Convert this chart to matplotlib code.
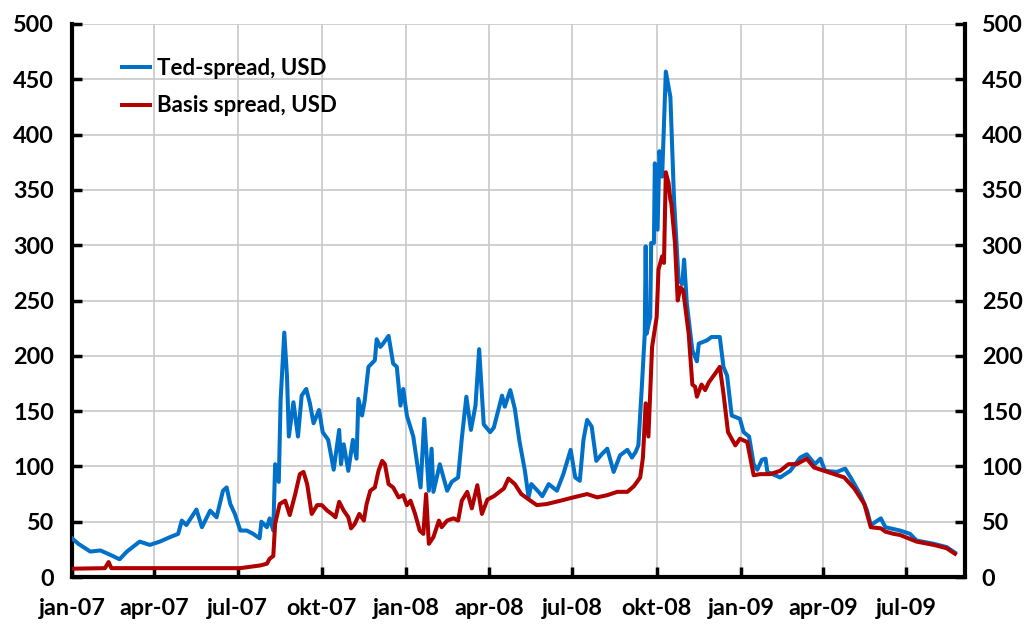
import matplotlib
matplotlib.use("Agg")
import matplotlib.pyplot as plt
import numpy as np

ted_dates = [
    "2007-01-01","2007-01-08","2007-01-21","2007-02-01","2007-02-12","2007-02-22","2007-03-02","2007-03-16",
    "2007-03-27","2007-04-07","2007-04-18","2007-04-27","2007-05-01","2007-05-06","2007-05-17","2007-05-23",
    "2007-06-01","2007-06-08","2007-06-15","2007-06-19","2007-06-23","2007-06-28","2007-07-04","2007-07-11",
    "2007-07-18","2007-07-25","2007-07-27","2007-08-02","2007-08-05","2007-08-09","2007-08-11","2007-08-15",
    "2007-08-17","2007-08-21","2007-08-24","2007-08-26","2007-08-31","2007-09-05","2007-09-09","2007-09-14",
    "2007-09-18","2007-09-22","2007-09-28","2007-10-02","2007-10-08","2007-10-14","2007-10-20","2007-10-22",
    "2007-10-25","2007-10-30","2007-11-04","2007-11-08","2007-11-10","2007-11-14","2007-11-17","2007-11-21",
    "2007-11-28","2007-11-30","2007-12-04","2007-12-07","2007-12-13","2007-12-18","2007-12-22","2007-12-26",
    "2007-12-29","2008-01-02","2008-01-09","2008-01-17","2008-01-21","2008-01-26","2008-01-29","2008-01-31",
    "2008-02-07","2008-02-15","2008-02-20","2008-02-27","2008-03-02","2008-03-07","2008-03-12","2008-03-17",
    "2008-03-21","2008-03-26","2008-04-02","2008-04-06","2008-04-15","2008-04-18","2008-04-24","2008-04-29",
    "2008-05-04","2008-05-10","2008-05-14","2008-05-17","2008-05-25","2008-05-29","2008-06-05","2008-06-14",
    "2008-06-21","2008-06-29","2008-07-04","2008-07-09","2008-07-13","2008-07-17","2008-07-22","2008-07-27",
    "2008-08-02","2008-08-08","2008-08-15","2008-08-22","2008-08-30","2008-09-04","2008-09-08","2008-09-11",
    "2008-09-15","2008-09-18","2008-09-19","2008-09-20","2008-09-24","2008-09-25","2008-09-28","2008-09-29",
    "2008-10-02","2008-10-04","2008-10-07","2008-10-11","2008-10-16","2008-10-20","2008-10-25","2008-10-29",
    "2008-10-31","2008-11-03","2008-11-09","2008-11-14","2008-11-16","2008-11-25","2008-11-30","2008-12-09",
    "2008-12-13","2008-12-17","2008-12-22","2008-12-31","2009-01-04","2009-01-10","2009-01-15","2009-01-19",
    "2009-01-24","2009-01-28","2009-01-30","2009-02-13","2009-02-24","2009-03-07","2009-03-14","2009-03-23",
    "2009-03-29","2009-04-03","2009-04-16","2009-04-25","2009-05-01","2009-05-12","2009-05-19","2009-05-23",
    "2009-06-03","2009-06-08","2009-06-24","2009-07-05","2009-07-12","2009-07-31","2009-08-14","2009-08-23",
]
ted_values = [
    35, 30, 23, 24, 20, 16, 23, 32,
    29, 32, 36, 39, 51, 47, 61, 45,
    60, 54, 78, 81, 66, 57, 42, 42,
    39, 35, 50, 45, 53, 42, 102, 86,
    160, 221, 181, 127, 158, 127, 164, 170,
    157, 139, 151, 131, 124, 97, 133, 102,
    120, 96, 124, 107, 161, 146, 160, 190,
    196, 215, 208, 211, 218, 193, 190, 155,
    170, 146, 127, 81, 143, 78, 116, 77,
    102, 78, 86, 90, 125, 163, 133, 155,
    206, 138, 131, 135, 164, 154, 169, 152,
    123, 96, 72, 84, 77, 73, 84, 78,
    93, 115, 90, 87, 124, 142, 136, 105,
    111, 116, 95, 110, 115, 108, 113, 119,
    175, 220, 299, 220, 235, 302, 302, 374,
    314, 385, 362, 457, 434, 341, 268, 265,
    287, 247, 205, 195, 211, 214, 217, 217,
    190, 182, 146, 143, 131, 127, 102, 97,
    106, 107, 95, 90, 96, 108, 111, 102,
    107, 96, 95, 98, 90, 74, 60, 47,
    53, 45, 42, 39, 33, 30, 27, 22,
]

basis_dates = [
    "2007-01-01","2007-02-06","2007-02-10","2007-02-13","2007-03-27","2007-05-21","2007-07-04","2007-07-26",
    "2007-08-02","2007-08-05","2007-08-09","2007-08-11","2007-08-16","2007-08-22","2007-08-27","2007-09-02",
    "2007-09-07","2007-09-11","2007-09-15","2007-09-20","2007-09-26","2007-10-01","2007-10-07","2007-10-12",
    "2007-10-16","2007-10-20","2007-10-25","2007-10-30","2007-11-02","2007-11-06","2007-11-11","2007-11-16",
    "2007-11-19","2007-11-23","2007-11-28","2007-12-02","2007-12-06","2007-12-09","2007-12-13","2007-12-18",
    "2007-12-24","2007-12-29","2008-01-02","2008-01-06","2008-01-11","2008-01-16","2008-01-20","2008-01-23",
    "2008-01-26","2008-01-31","2008-02-06","2008-02-09","2008-02-15","2008-02-22","2008-02-27","2008-03-02",
    "2008-03-08","2008-03-13","2008-03-19","2008-03-24","2008-03-30","2008-04-06","2008-04-17","2008-04-22",
    "2008-04-29","2008-05-06","2008-05-16","2008-05-23","2008-06-03","2008-06-18","2008-07-02","2008-07-17",
    "2008-07-28","2008-08-08","2008-08-19","2008-08-30","2008-09-06","2008-09-13","2008-09-16","2008-09-19",
    "2008-09-22","2008-09-26","2008-10-01","2008-10-03","2008-10-07","2008-10-09","2008-10-11","2008-10-14",
    "2008-10-16","2008-10-17","2008-10-21","2008-10-24","2008-10-27","2008-10-30","2008-11-05","2008-11-09",
    "2008-11-12","2008-11-14","2008-11-19","2008-11-23","2008-11-27","2008-12-04","2008-12-09","2008-12-13",
    "2008-12-18","2008-12-26","2008-12-31","2009-01-08","2009-01-15","2009-01-22","2009-02-02","2009-02-13",
    "2009-02-22","2009-03-03","2009-03-14","2009-03-22","2009-04-02","2009-04-13","2009-04-24","2009-05-05",
    "2009-05-16","2009-05-23","2009-06-03","2009-06-08","2009-06-17","2009-06-24","2009-07-12","2009-07-31",
    "2009-08-14","2009-08-23",
]
basis_values = [
    7.5, 8, 13.5, 8, 8, 8, 8, 10.5,
    12, 16.5, 19, 48, 66, 69, 56, 75,
    93, 95, 84, 57, 65, 65, 60, 57,
    54, 68, 60, 54, 44, 48, 57, 51,
    66, 78, 81, 96, 105, 102, 84, 81,
    72, 74, 65, 69, 57, 42, 39, 75,
    30, 36, 51, 45, 51, 53, 51, 69,
    77, 62, 83, 57, 70, 73, 80, 89,
    84, 75, 69, 65, 66, 69, 72, 75,
    72, 74, 77, 77, 82, 90, 108, 157,
    127, 208, 235, 278, 290, 284, 366, 356,
    341, 338, 302, 250, 262, 259, 220, 174,
    172, 163, 174, 169, 176, 184, 190, 166,
    131, 119, 125, 122, 92, 93, 93, 96,
    102, 102, 107, 99, 96, 93, 90, 80,
    66, 45, 44, 41, 39, 38, 32, 29,
    26, 21,
]

tick_dates = ["2007-01-01","2007-04-01","2007-07-01","2007-10-01","2008-01-01","2008-04-01",
              "2008-07-01","2008-10-01","2009-01-01","2009-04-01","2009-07-01"]
tick_labels = ["jan-07","apr-07","jul-07","okt-07","jan-08","apr-08",
               "jul-08","okt-08","jan-09","apr-09","jul-09"]
y_ticks = [0, 50, 100, 150, 200, 250, 300, 350, 400, 450, 500]

plt.rcParams['font.family'] = ['Lato', 'DejaVu Sans']
plt.rcParams['font.weight'] = 'bold'
FS = 16
FT = 16.8

fig = plt.figure(figsize=(10.31, 6.27), dpi=100)
ax = fig.add_axes([72/1031, 50/627, (965-72)/1031, (577-24)/627])

td = np.array(ted_dates, dtype='datetime64[D]')
bd = np.array(basis_dates, dtype='datetime64[D]')
ax.plot(td, ted_values, color='#0070C8', lw=2.9, label='Ted-spread, USD', zorder=3)
ax.plot(bd, basis_values, color='#B00000', lw=2.9, label='Basis spread, USD', zorder=4)

tpos = np.array(tick_dates, dtype='datetime64[D]')
ax.set_xlim(np.datetime64('2007-01-01'), np.datetime64('2009-09-03'))
ax.set_ylim(0, 500)
ax.set_xticks(tpos)
ax.set_xticklabels(tick_labels)
ax.set_yticks(y_ticks)

ax.grid(True, color='#c8c8c8', lw=1.2, zorder=0)
ax.set_axisbelow(True)
for s in ['left', 'right', 'bottom']:
    ax.spines[s].set_linewidth(3)
    ax.spines[s].set_color('black')
ax.spines['top'].set_visible(False)

ax.tick_params(axis='both', direction='in', length=7, width=2.5, labelsize=FT, colors='black')
ax.tick_params(axis='y', pad=13)
ax.tick_params(axis='x', pad=15)

ax2 = ax.twinx()
ax2.set_ylim(0, 500)
ax2.set_yticks(y_ticks)
for s in ['left', 'right', 'bottom', 'top']:
    ax2.spines[s].set_visible(False)
ax2.tick_params(axis='y', direction='in', length=7, width=2.5, labelsize=FT, pad=12, colors='black')

for lab in ax.get_xticklabels() + ax.get_yticklabels() + ax2.get_yticklabels():
    lab.set_fontweight('bold')

leg = ax.legend(loc='upper left', bbox_to_anchor=(0.034, 0.975), frameon=False,
                fontsize=FS, handlelength=1.25, handletextpad=0.3, labelspacing=0.75)
for t in leg.get_texts():
    t.set_fontweight('bold')

fig.savefig('out.png', dpi=100)
